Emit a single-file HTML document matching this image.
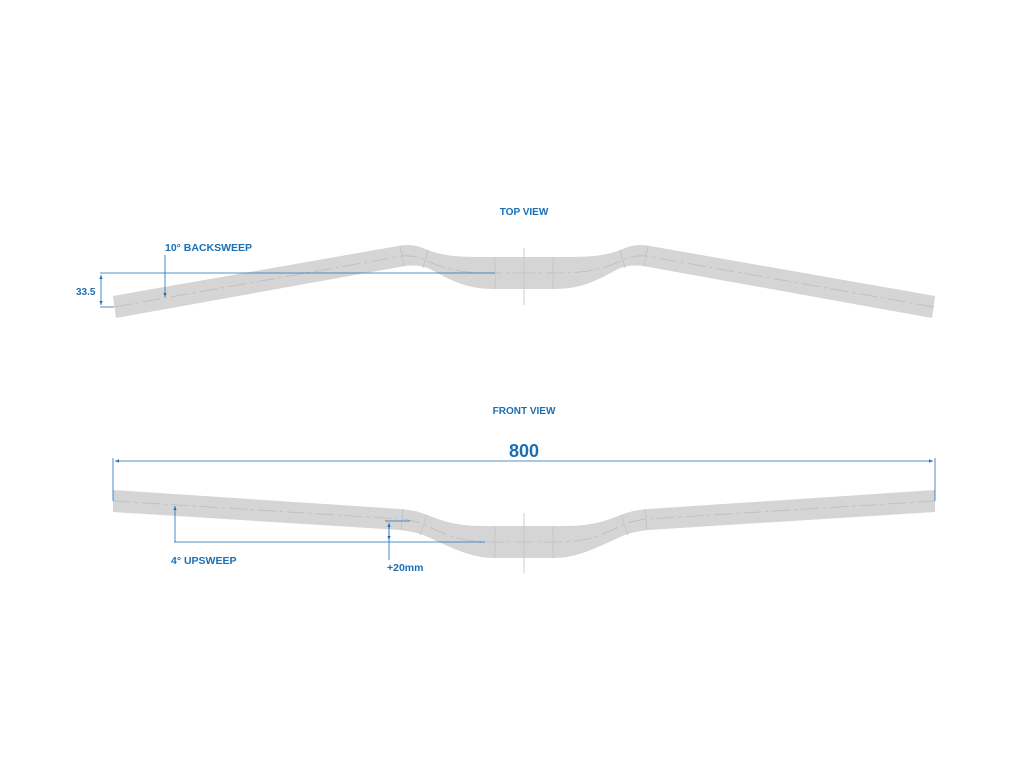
<!DOCTYPE html>
<html><head><meta charset="utf-8"><style>
html,body{margin:0;padding:0;background:#fff;}
svg{display:block;}
text{font-family:"Liberation Sans",sans-serif;font-weight:bold;fill:#1a6fb5;}
</style></head><body>
<svg width="1024" height="768" viewBox="0 0 1024 768" xmlns="http://www.w3.org/2000/svg">
<defs>
<marker id="a" viewBox="0 0 10 10" refX="10" refY="5" markerWidth="5" markerHeight="5" orient="auto-start-reverse"><path d="M0,1 L10,5 L0,9 z" fill="#1a6fb5"/></marker>
<g id="tl">
<path d="M113,296 L398,246 Q412,243 425,249 C445,257 460,257 495,257 L525,257 L525,289 L495,289 C470,289 455,283 432,270 Q420,264 405,266 L116,318 Z" fill="#d5d5d6"/>
<path d="M114,307 L402,256 Q414,255 425,260 C450,272 470,273 495,273 L524,273" fill="none" stroke="#bdbdc0" stroke-width="0.8" stroke-dasharray="18,4,3,4"/>
<g stroke="#c2c2c5" stroke-width="0.8"><line x1="400" y1="246" x2="404" y2="266"/><line x1="428" y1="250" x2="423" y2="268"/><line x1="495" y1="257" x2="495" y2="289"/></g>
</g>
<g id="fl">
<path d="M113,490 L400,509 Q416,510 430,516 C455,526 468,526 495,526 L525,526 L525,558 L495,558 C475,558 460,552 430,538 Q418,532 400,530 L113,512 Z" fill="#d5d5d6"/>
<path d="M113,501 L400,519 Q415,520 430,527 C455,540 470,542 495,542 L524,542" fill="none" stroke="#bdbdc0" stroke-width="0.8" stroke-dasharray="18,4,3,4"/>
<g stroke="#c2c2c5" stroke-width="0.8"><line x1="403" y1="509" x2="401" y2="530"/><line x1="427" y1="515" x2="420" y2="535"/><line x1="495" y1="526" x2="495" y2="558"/></g>
</g>
</defs>
<!-- TOP VIEW -->
<text x="524" y="215" font-size="10" text-anchor="middle">TOP VIEW</text>
<use href="#tl"/>
<use href="#tl" transform="translate(1048,0) scale(-1,1)"/>
<line x1="524" y1="248" x2="524" y2="305" stroke="#c2c2c5" stroke-width="0.8"/>
<g stroke="#1a6fb5" stroke-width="0.8" fill="none">
<line x1="100" y1="273" x2="495" y2="273"/>
<line x1="100" y1="307" x2="114" y2="307"/>
<line x1="101" y1="275" x2="101" y2="305" marker-start="url(#a)" marker-end="url(#a)"/>
<line x1="165" y1="255" x2="165" y2="297" marker-end="url(#a)"/>
</g>
<text x="76" y="295" font-size="10">33.5</text>
<text x="165" y="251" font-size="10.5">10° BACKSWEEP</text>
<!-- FRONT VIEW -->
<text x="524" y="414" font-size="10" text-anchor="middle">FRONT VIEW</text>
<use href="#fl"/>
<use href="#fl" transform="translate(1048,0) scale(-1,1)"/>
<line x1="524" y1="513" x2="524" y2="573" stroke="#c2c2c5" stroke-width="0.8"/>
<g stroke="#1a6fb5" stroke-width="0.8" fill="none">
<line x1="115" y1="461" x2="933" y2="461" marker-start="url(#a)" marker-end="url(#a)"/>
<line x1="113" y1="458" x2="113" y2="501"/>
<line x1="935" y1="458" x2="935" y2="501"/>
<line x1="174" y1="542" x2="485" y2="542"/>
<line x1="175" y1="542" x2="175" y2="506" marker-end="url(#a)"/>
<line x1="385" y1="521" x2="410" y2="521"/>
<line x1="389" y1="560" x2="389" y2="523" marker-end="url(#a)"/>
<line x1="389" y1="523" x2="389" y2="540" marker-end="url(#a)"/>
</g>
<text x="524" y="457" font-size="18" text-anchor="middle">800</text>
<text x="171" y="564" font-size="10.5">4° UPSWEEP</text>
<text x="387" y="571" font-size="10.5">+20mm</text>
</svg>
</body></html>
